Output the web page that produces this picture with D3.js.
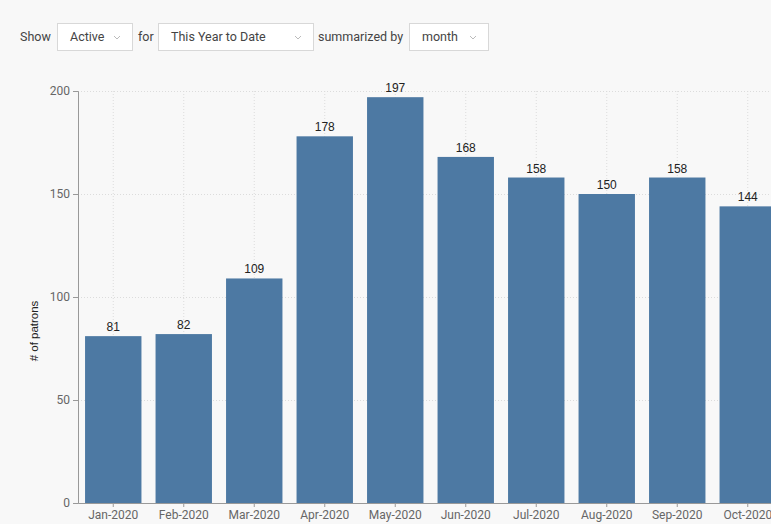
<!DOCTYPE html>
<html>
<head>
<meta charset="utf-8">
<script src="https://cdn.jsdelivr.net/npm/d3@7"></script>
<style>
  body { margin: 0; background: #f8f8f8; font-family: Roboto, "Open Sans", sans-serif; overflow: hidden; }
  .tick text { fill: #666; font-size: 12px; font-family: Roboto, sans-serif; }
  .grid line { stroke: #dcdcdc; stroke-dasharray: 1,2; }
  .grid path { display: none; }
</style>
</head>
<body>
<div id="chart"></div>
<script>
// monthly active patrons
var months = ["Jan-2020", "Feb-2020", "Mar-2020", "Apr-2020", "May-2020",
              "Jun-2020", "Jul-2020", "Aug-2020", "Sep-2020", "Oct-2020"];
var patrons = [81, 82, 109, 178, 197, 168, 158, 150, 158, 144];
var yTicks = [0, 50, 100, 150, 200];

var filterLabels = ["Show", "for", "summarized by"];
var filterValues = ["Active", "This Year to Date", "month"];

var width = 771;
var height = 524;

var margin = { top: 91, right: -12, bottom: 21, left: 78 };
var innerWidth = width - margin.left - margin.right;
var innerHeight = height - margin.top - margin.bottom;

var svg = d3.select("#chart")
  .append("svg")
  .attr("width", width)
  .attr("height", height);

// --- filter bar on top ---
var bar = svg.append("g").attr("font-size", 12.5).attr("fill", "#444");
var boxes = [
  { x: 57, w: 75 },
  { x: 158, w: 155 },
  { x: 409, w: 79 }
];
var labelX = [20, 138, 318];

filterLabels.forEach(function(t, i) {
  bar.append("text").attr("x", labelX[i]).attr("y", 41).text(t);
});
filterValues.forEach(function(t, i) {
  var b = boxes[i];
  bar.append("rect")
    .attr("x", b.x + 0.5).attr("y", 23.5)
    .attr("width", b.w).attr("height", 27)
    .attr("fill", "#fff").attr("stroke", "#d8d8d8");
  bar.append("text")
    .attr("x", b.x + 13).attr("y", 41)
    .text(t);
  // small chevron
  var cx = b.x + b.w - 15;
  bar.append("path")
    .attr("d", "M" + (cx - 3) + ",36 L" + cx + ",39 L" + (cx + 3) + ",36")
    .attr("fill", "none").attr("stroke", "#bbb");
});

// --- chart ---
var g = svg.append("g")
  .attr("transform", "translate(" + margin.left + "," + margin.top + ")");

var xScale = d3.scaleBand()
  .domain(months)
  .range([0, innerWidth])
  .paddingInner(0.2)
  .paddingOuter(0.1);

var yScale = d3.scaleLinear()
  .domain([0, 200])
  .range([innerHeight, 0]);

// gridlines
var gy = g.append("g")
  .attr("class", "grid")
  .call(d3.axisLeft(yScale).tickValues(yTicks).tickSize(-innerWidth).tickFormat(""));

var gx = g.append("g")
  .attr("class", "grid")
  .attr("transform", "translate(0," + innerHeight + ")")
  .call(d3.axisBottom(xScale).tickSize(-innerHeight).tickFormat(""));

gy.selectAll("text").remove();
gx.selectAll("text").remove();

g.selectAll(".bar")
  .data(months)
  .enter()
  .append("rect")
  .attr("class", "bar")
  .attr("x", function(d) { return xScale(d); })
  .attr("y", function(d, i) { return yScale(patrons[i]); })
  .attr("width", xScale.bandwidth())
  .attr("height", function(d, i) { return innerHeight - yScale(patrons[i]); })
  .attr("fill", "#4d79a3");

g.selectAll(".value-label")
  .data(months)
  .enter()
  .append("text")
  .attr("class", "value-label")
  .attr("x", function(d) { return xScale(d) + xScale.bandwidth() / 2; })
  .attr("y", function(d, i) { return yScale(patrons[i]) - 5; })
  .attr("text-anchor", "middle")
  .attr("font-family", "'Liberation Sans', Arial, sans-serif")
  .attr("font-size", 12)
  .attr("fill", "#222")
  .text(function(d, i) { return patrons[i]; });

var yAxis = g.append("g")
  .call(d3.axisLeft(yScale).tickValues(yTicks).tickSize(5).tickPadding(3));

var xAxis = g.append("g")
  .attr("transform", "translate(0," + innerHeight + ")")
  .call(d3.axisBottom(xScale).tickSize(4).tickPadding(3).tickSizeOuter(0));

[yAxis, xAxis].forEach(function(a) {
  a.select(".domain").attr("stroke", "#999");
  a.selectAll(".tick line").attr("stroke", "#999");
});

svg.append("text")
  .attr("transform", "translate(38,331) rotate(-90)")
  .attr("text-anchor", "middle")
  .attr("font-family", "'Liberation Sans', Arial, sans-serif")
  .attr("font-size", 11.5)
  .attr("fill", "#222")
  .text("# of patrons");
</script>
</body>
</html>
